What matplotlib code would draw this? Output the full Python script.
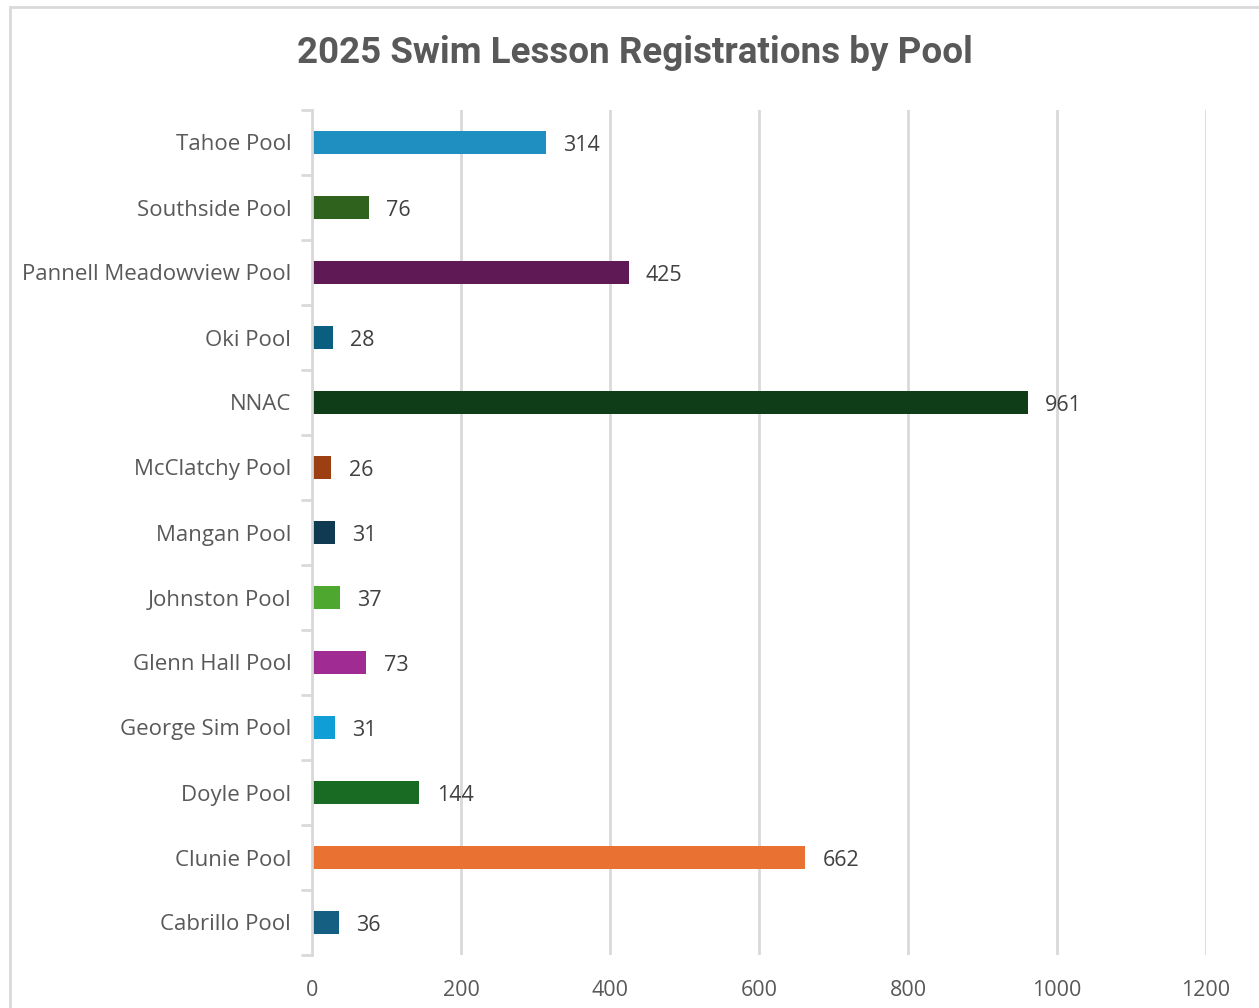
import matplotlib.pyplot as plt
from matplotlib.patches import Rectangle
from matplotlib.ticker import FixedLocator

pools = ["Cabrillo Pool", "Clunie Pool", "Doyle Pool", "George Sim Pool", "Glenn Hall Pool",
         "Johnston Pool", "Mangan Pool", "McClatchy Pool", "NNAC", "Oki Pool",
         "Pannell Meadowview Pool", "Southside Pool", "Tahoe Pool"]
registrations = [36, 662, 144, 31, 73, 37, 31, 26, 961, 28, 425, 76, 314]
colors = ["#156082", "#E97132", "#196B24", "#0F9ED5", "#A02B93", "#4EA72E",
          "#0F3A52", "#9C3F12", "#0F3D18", "#0A5E80", "#5F1A56", "#2F621D", "#1F8FC2"]
xticks = [0, 200, 400, 600, 800, 1000, 1200]

plt.rcParams['font.family'] = ['Open Sans', 'DejaVu Sans']
text_col = "#595959"
grid_col = "#D9D9D9"

fig = plt.figure(figsize=(12.59, 10.08), dpi=100)
fig.patches.append(Rectangle((10 / 1259, -0.1), 1.2, 1.1 - 7 / 1008, transform=fig.transFigure,
                             fill=False, edgecolor="#D9D9D9", linewidth=2))

ax = fig.add_axes([312 / 1259, 1 - 955 / 1008, (1206 - 312) / 1259, 845 / 1008])
y = list(range(len(pools)))
ax.barh(y, registrations, height=0.35, color=colors, zorder=3)

for yi, v in zip(y, registrations):
    ax.annotate(str(v), (v, yi), xytext=(12.5, -2), textcoords="offset points",
                ha="left", va="center", fontsize=15.5, color="#404040", zorder=4)

ax.set_xlim(0, 1200)
ax.set_ylim(-0.5, len(pools) - 0.5)
ax.set_xticks(xticks)
ax.set_yticks(y)
ax.set_yticklabels(pools)
ax.yaxis.set_minor_locator(FixedLocator([i - 0.5 for i in range(len(pools) + 1)]))
ax.tick_params(axis="y", which="major", length=0, pad=15, labelsize=16, labelcolor=text_col)
ax.tick_params(axis="y", which="minor", length=8, width=2, color=grid_col)
ax.tick_params(axis="x", length=0, pad=18, labelsize=15.5, labelcolor=text_col)
ax.grid(axis="x", color=grid_col, linewidth=2, zorder=0)
for s in ["top", "right", "bottom"]:
    ax.spines[s].set_visible(False)
ax.spines["left"].set_color(grid_col)
ax.spines["left"].set_linewidth(2)
ax.spines["left"].set_zorder(5)

fig.text(635 / 1259, 1 - 53 / 1008, "2025 Swim Lesson Registrations by Pool", ha="center", va="center",
         fontsize=26.5, fontweight="bold", color=text_col, family=["Roboto", "DejaVu Sans"])

fig.savefig("out.png", dpi=100)
